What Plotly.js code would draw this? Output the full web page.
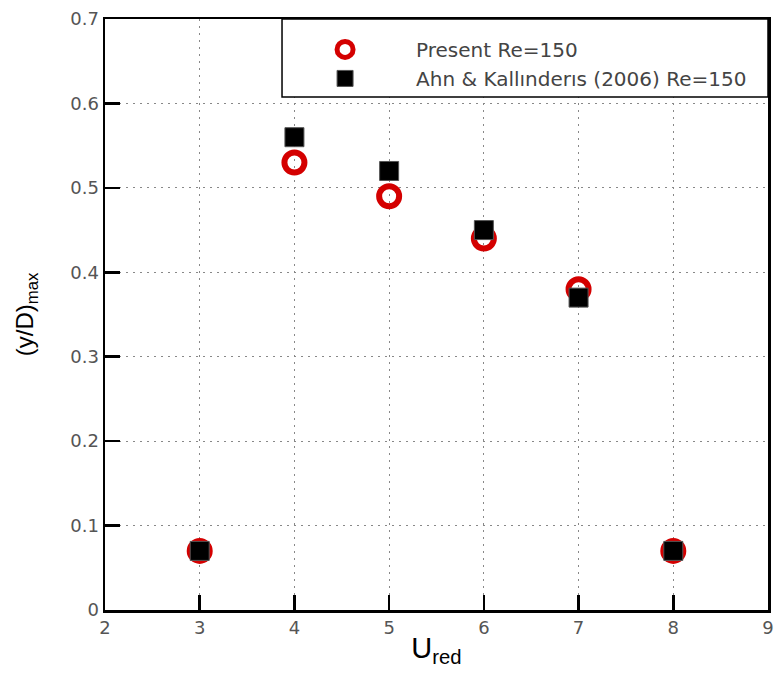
<!DOCTYPE html>
<html>
<head>
<meta charset="utf-8">
<script src="https://cdn.plot.ly/plotly-3.0.1.min.js"></script>
<style>html,body{margin:0;padding:0;background:#fff;}#chart{width:778px;height:675px;}</style>
</head>
<body>
<div id="chart"></div>
<script>
const uRed = [3, 4, 5, 6, 7, 8];
const presentY = [0.07, 0.53, 0.49, 0.44, 0.38, 0.07];
const ahnY = [0.07, 0.56, 0.52, 0.45, 0.37, 0.07];
const xTicks = [2, 3, 4, 5, 6, 7, 8, 9];
const yTicks = [0, 0.1, 0.2, 0.3, 0.4, 0.5, 0.6, 0.7];
const seriesNames = ["Present Re=150", "Ahn &amp; Kallınderıs (2006) Re=150"];
const xTitle = "U<sub>red</sub>";
const yTitle = "(y/D)<sub>max</sub>";

const tickFont = {family: "DejaVu Sans", size: 18, color: "#555"};

const traces = [
  {
    x: uRed, y: presentY, name: seriesNames[0], type: "scatter", mode: "markers",
    marker: {symbol: "circle-open", size: 20, color: "#d40000", line: {width: 6, color: "#d40000"}}
  },
  {
    x: uRed, y: ahnY, name: seriesNames[1], type: "scatter", mode: "markers",
    marker: {symbol: "square", size: 19, color: "#000", line: {width: 1, color: "#555"}}
  }
];

const layout = {
  width: 778, height: 675,
  margin: {l: 105, r: 10, t: 19, b: 65},
  paper_bgcolor: "#fff", plot_bgcolor: "#fff",
  showlegend: true,
  legend: {
    x: 0.255, xanchor: "left", y: 0.9815, yanchor: "top",
    bgcolor: "rgba(0,0,0,0)", borderwidth: 0,
    font: {family: "DejaVu Sans", size: 20, color: "#444"},
    itemwidth: 132
  },
  xaxis: {
    range: [2, 9], tickvals: xTicks, ticktext: xTicks.map(String),
    ticks: "inside", ticklen: 15, tickwidth: 2.5, tickcolor: "#000",
    showline: true, linewidth: 2.5, linecolor: "#000", mirror: true,
    showgrid: true, gridcolor: "#888", gridwidth: 1, griddash: "2px,5px",
    zeroline: false, tickfont: tickFont,
    title: {text: xTitle, font: {family: "Liberation Sans", size: 29, color: "#000"}, standoff: 1}
  },
  yaxis: {
    range: [0, 0.7], tickvals: yTicks, ticktext: yTicks.map(v => v === 0 ? "0" : v.toFixed(1)),
    ticks: "inside", ticklen: 15, tickwidth: 2.5, tickcolor: "#000",
    showline: true, linewidth: 2.5, linecolor: "#000", mirror: true,
    showgrid: true, gridcolor: "#888", gridwidth: 1, griddash: "2px,5px",
    zeroline: false, tickfont: tickFont
  },
  annotations: [
    {text: yTitle, xref: "paper", yref: "paper", x: -0.118, y: 0.5, xanchor: "center", yanchor: "middle",
     textangle: -90, showarrow: false, font: {family: "Liberation Sans", size: 24, color: "#000"}}
  ],
  shapes: [
    {type: "rect", xref: "paper", yref: "paper", x0: 0.267, x1: 1.0, y0: 0.868, y1: 1.0,
     line: {color: "#000", width: 1.5}, fillcolor: "#fff", layer: "above"}
  ]
};

Plotly.newPlot("chart", traces, layout, {displayModeBar: false, staticPlot: true});
</script>
</body>
</html>
